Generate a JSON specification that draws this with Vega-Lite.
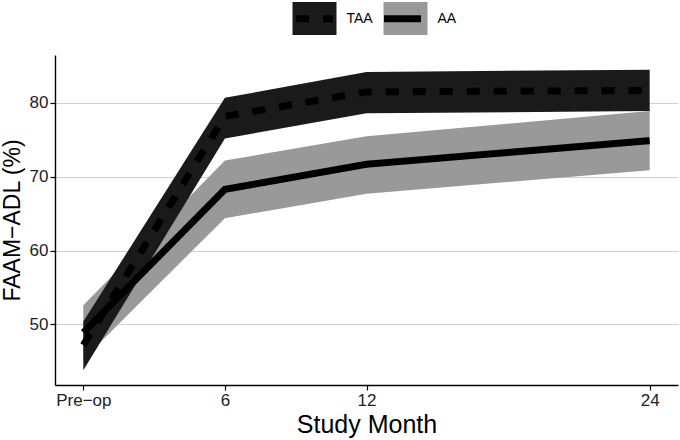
{
  "$schema": "https://vega.github.io/schema/vega-lite/v6.json",
  "width": 623,
  "height": 330,
  "autosize": {"type": "none"},
  "padding": {"left": 55, "top": 55, "right": 2, "bottom": 55},
  "background": "white",
  "config": {
    "view": {"stroke": null},
    "font": "Liberation Sans",
    "axis": {
      "domainColor": "black",
      "domainWidth": 1.4,
      "tickColor": "black",
      "tickWidth": 1.2,
      "tickSize": 5,
      "labelFont": "Liberation Sans",
      "labelFontSize": 17,
      "labelColor": "#222222",
      "labelPadding": 2,
      "titleFont": "Liberation Sans",
      "titleFontWeight": "normal",
      "titleColor": "black",
      "gridColor": "#cfcfcf",
      "gridWidth": 1.2
    },
    "legend": {
      "labelFont": "Liberation Sans",
      "labelFontSize": 14,
      "labelColor": "black",
      "padding": 0,
      "offset": 0
    }
  },
  "data": {
    "values": [
      {"group": "TAA", "series": "TAA-line", "month": 0, "mean": 47.2, "lo": 43.8, "hi": 50.4},
      {"group": "TAA", "series": "TAA-line", "month": 6, "mean": 78.2, "lo": 75.2, "hi": 80.7},
      {"group": "TAA", "series": "TAA-line", "month": 12, "mean": 81.5, "lo": 78.6, "hi": 84.2},
      {"group": "TAA", "series": "TAA-line", "month": 24, "mean": 81.7, "lo": 78.9, "hi": 84.5},
      {"group": "AA", "series": "AA-line", "month": 0, "mean": 48.9, "lo": 45.3, "hi": 52.6},
      {"group": "AA", "series": "AA-line", "month": 6, "mean": 68.3, "lo": 64.4, "hi": 72.2},
      {"group": "AA", "series": "AA-line", "month": 12, "mean": 71.7, "lo": 67.7, "hi": 75.5},
      {"group": "AA", "series": "AA-line", "month": 24, "mean": 74.9, "lo": 70.9, "hi": 78.9}
    ]
  },
  "encoding": {
    "x": {
      "field": "month",
      "type": "quantitative",
      "scale": {"domain": [-1.2, 25.2], "nice": false, "zero": false},
      "axis": {
        "title": "Study Month",
        "titleFontSize": 25,
        "values": [0, 6, 12, 24],
        "labelExpr": "datum.value == 0 ? 'Pre−op' : datum.label",
        "grid": false,
        "titlePadding": 4
      }
    }
  },
  "layer": [
    {
      "transform": [{"filter": "datum.group == 'AA'"}],
      "mark": {"type": "area", "opacity": 1},
      "encoding": {
        "y": {
          "field": "lo",
          "type": "quantitative",
          "scale": {"domain": [41.8, 86.5], "nice": false, "zero": false},
          "axis": {"title": "FAAM−ADL (%)", "titleFontSize": 23, "values": [50, 60, 70, 80], "grid": true, "titlePadding": 5}
        },
        "y2": {"field": "hi"},
        "fill": {
          "field": "group",
          "type": "nominal",
          "scale": {"domain": ["TAA", "AA"], "range": ["#1a1a1a", "#999999"]},
          "legend": {
            "title": null,
            "orient": "none",
            "direction": "horizontal",
            "legendX": 234,
            "legendY": -62,
            "symbolType": "M-1,-0.75H1V0.75H-1Z",
            "symbolSize": 1936,
            "symbolStrokeColor": "transparent",
            "symbolStrokeWidth": 7,
            "symbolOpacity": 1,
            "labelOffset": 6.5,
            "columnPadding": -4,
            "zindex": 1
          }
        }
      }
    },
    {
      "transform": [{"filter": "datum.group == 'TAA'"}],
      "mark": {"type": "area", "opacity": 1},
      "encoding": {
        "y": {
          "field": "lo",
          "type": "quantitative",
          "scale": {"domain": [41.8, 86.5], "nice": false, "zero": false},
          "axis": {"title": "FAAM−ADL (%)", "titleFontSize": 23, "values": [50, 60, 70, 80], "grid": true, "titlePadding": 5}
        },
        "y2": {"field": "hi"},
        "fill": {"field": "group", "type": "nominal"}
      }
    },
    {
      "mark": {"type": "line", "color": "black", "strokeWidth": 7, "strokeCap": "butt", "strokeJoin": "miter"},
      "encoding": {
        "y": {
          "field": "mean",
          "type": "quantitative",
          "scale": {"domain": [41.8, 86.5], "nice": false, "zero": false},
          "axis": {"title": "FAAM−ADL (%)", "titleFontSize": 23, "values": [50, 60, 70, 80], "grid": true, "titlePadding": 5}
        },
        "strokeDash": {
          "field": "series",
          "type": "nominal",
          "scale": {"domain": ["TAA-line", "AA-line"], "range": [[13, 14], [1, 0]]},
          "legend": {
            "title": null,
            "orient": "none",
            "direction": "horizontal",
            "legendX": 234,
            "legendY": -62,
            "symbolType": "M-0.84,0H0.84",
            "symbolSize": 1936,
            "symbolStrokeColor": "black",
            "symbolFillColor": "transparent",
            "symbolStrokeWidth": 7,
            "labelExpr": "''",
            "labelOffset": 6.5,
            "columnPadding": 23,
            "zindex": 2
          }
        }
      }
    }
  ]
}
